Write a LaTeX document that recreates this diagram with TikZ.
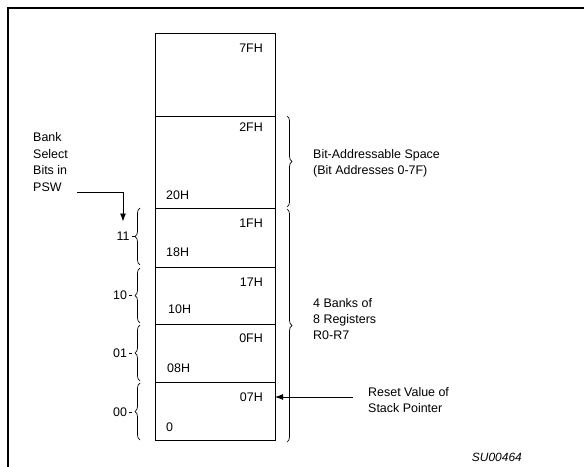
\documentclass[tikz,border=0pt]{standalone}
\usepackage{fontspec}
\setmainfont{Liberation Sans}
\usetikzlibrary{positioning,arrows.meta,calc,decorations.pathreplacing}

\begin{document}
\begin{tikzpicture}[x=1bp,y=-1bp,font=\fontsize{12.5}{16.5}\selectfont,
  cell/.style={draw=black,line width=0.9pt,minimum width=120bp,inner sep=0pt,outer sep=0pt},
  hi/.style={anchor=east,inner sep=0pt},
  lo/.style={anchor=west,inner sep=0pt},
  txt/.style={align=left,anchor=west,inner sep=0pt},
  bit/.style={inner sep=2bp},
  brc/.style={decorate,decoration={brace,amplitude=5bp},line width=0.7pt},
  ar/.style={-{Latex[length=8bp,width=6bp]},line width=0.9pt}]
  \useasboundingbox (0,0) rectangle (584,467);
  \draw[line width=1.6pt] (8,467) -- (8,8) -- (584,8);
  % memory map
  \node[cell,minimum height=83bp,anchor=north west] (c7f) at (155,33) {};
  \node[cell,minimum height=92bp,below=0pt of c7f] (c2f) {};
  \node[cell,minimum height=59bp,below=0pt of c2f] (c1f) {};
  \node[cell,minimum height=57bp,below=0pt of c1f] (c17) {};
  \node[cell,minimum height=58bp,below=0pt of c17] (c0f) {};
  \node[cell,minimum height=58bp,below=0pt of c0f] (c07) {};
  \node[hi] (l7f) at ([xshift=-12bp,yshift=-15bp]c7f.north east) {7FH};
  \node[hi] (l2f) at ([xshift=-12bp,yshift=-11bp]c2f.north east) {2FH};
  \node[lo] (l20) at ([xshift=11bp,yshift=13bp]c2f.south west) {20H};
  \node[hi] (l1f) at ([xshift=-12bp,yshift=-15bp]c1f.north east) {1FH};
  \node[lo] (l18) at ([xshift=11bp,yshift=15bp]c1f.south west) {18H};
  \node[hi] (l17) at ([xshift=-12bp,yshift=-15bp]c17.north east) {17H};
  \node[lo] (l10) at ([xshift=13bp,yshift=15bp]c17.south west) {10H};
  \node[hi] (l0f) at ([xshift=-12bp,yshift=-14bp]c0f.north east) {0FH};
  \node[lo] (l08) at ([xshift=12bp,yshift=14bp]c0f.south west) {08H};
  \node[hi] (l07) at ([xshift=-12bp,yshift=-15bp]c07.north east) {07H};
  \node[lo] (l00) at ([xshift=11bp,yshift=13bp]c07.south west) {0};
  % bank select bits
  \node[txt] (psel) at (33,162) {Bank\\Select\\Bits in\\PSW};
  \coordinate (psw) at (77,192);
  \node[bit] (b11) at (123,236) {11};
  \node[bit] (b10) at (120,295) {10};
  \node[bit] (b01) at (120,353) {01};
  \node[bit] (b00) at (120,412) {00};
  \draw[brc] ([xshift=-15bp,yshift=2bp]c1f.south west) -- ([xshift=-15bp]c1f.north west);
  \draw[brc] ([xshift=-15bp,yshift=1bp]c17.south west) -- ([xshift=-15bp,yshift=-1bp]c17.north west);
  \draw[brc] ([xshift=-15bp,yshift=1bp]c0f.south west) -- ([xshift=-15bp,yshift=-1bp]c0f.north west);
  \draw[brc] ([xshift=-15bp]c07.south west) -- ([xshift=-15bp,yshift=-1bp]c07.north west);
  \draw[line width=0.5pt] (b11.east) -- +(3bp,0);
  \draw[line width=0.5pt] (b10.east) -- +(3bp,0);
  \draw[line width=0.5pt] (b01.east) -- +(3bp,0);
  \draw[line width=0.5pt] (b00.east) -- +(3bp,0);
  \draw[ar] (psw) -| ([yshift=8bp]b11.north);
  % right side
  \draw[brc] ([xshift=12bp]c2f.north east) -- ([xshift=12bp,yshift=1bp]c2f.south east);
  \draw[brc] ([xshift=12bp,yshift=-1bp]c1f.north east) -- ([xshift=12bp,yshift=-2bp]c07.south east);
  \node[txt] (bas) at (313,163) {Bit-Addressable Space\\(Bit Addresses 0-7F)};
  \node[txt] (bnk) at (313,319) {4 Banks of\\8 Registers\\R0-R7};
  \node[txt] (rst) at (368,400) {Reset Value of\\Stack Pointer};
  \coordinate (sp) at (353,397);
  \draw[ar] (sp) -- (sp -| c07.east);
  \node[anchor=east,inner sep=0pt,font=\fontsize{12}{14}\itshape] (fig) at (522,457) {SU00464};
\end{tikzpicture}
\end{document}
